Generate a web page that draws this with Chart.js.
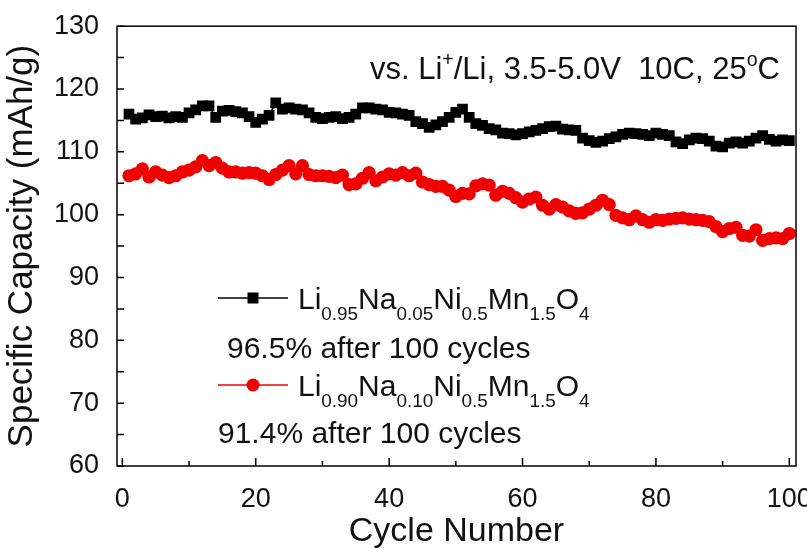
<!DOCTYPE html>
<html>
<head>
<meta charset="utf-8">
<script src="https://cdn.jsdelivr.net/npm/chart.js@4"></script>
<style>
  html, body { margin: 0; padding: 0; background: #fff; }
</style>
</head>
<body>
<canvas id="chart" width="807" height="549"></canvas>
<script>
/* Capacity retention at 10C — two Na-doped LNMO cathodes */

const CYCLES = Array.from({ length: 100 }, (_, i) => i + 1);

// Li0.95Na0.05Ni0.5Mn1.5O4 (black squares)
const CAP_NA005 = [
  116.0, 115.2, 115.4, 115.9, 115.6, 115.7, 115.4, 115.6, 115.5, 116.2,
  116.7, 117.3, 117.3, 115.5, 116.5, 116.6, 116.4, 116.2, 115.6, 114.7,
  115.2, 115.8, 117.8, 116.8, 117.0, 116.8, 116.7, 116.2, 115.5, 115.3,
  115.5, 115.6, 115.3, 115.5, 116.0, 117.0, 117.0, 116.8, 116.7, 116.3,
  116.2, 116.0, 115.8, 114.8, 114.5, 113.9, 114.3, 114.8, 115.5, 116.3,
  116.8, 115.5, 114.5, 114.2, 113.7, 113.5, 113.0, 112.9, 112.7, 112.9,
  113.2, 113.4, 113.7, 114.0, 114.1, 113.6, 113.5, 113.4, 112.2, 111.8,
  111.5, 111.7, 112.1, 112.4, 112.8, 113.0, 112.9, 112.8, 112.6, 113.0,
  112.8, 112.6, 111.6, 111.3, 111.9, 112.2, 112.1, 111.7, 110.9, 110.8,
  111.4, 111.6, 111.4, 111.7, 112.2, 112.6, 112.0, 111.7, 111.9, 111.8,
];

// Li0.90Na0.10Ni0.5Mn1.5O4 (red circles)
const CAP_NA010 = [
  106.2, 106.5, 107.3, 106.0, 106.8, 106.3, 105.9, 106.2, 106.8, 107.1,
  107.6, 108.6, 107.8, 108.3, 107.4, 106.8, 106.8, 106.6, 106.7, 106.6,
  106.2, 105.6, 106.4, 107.1, 107.8, 106.5, 107.8, 106.4, 106.2, 106.2,
  106.1, 105.9, 106.3, 104.8, 104.9, 105.8, 106.7, 105.4, 106.0, 106.5,
  106.3, 106.7, 106.2, 106.6, 105.2, 104.8, 104.5, 104.5, 103.9, 102.9,
  103.4, 103.3, 104.6, 104.9, 104.7, 103.1, 103.7, 103.4, 102.7, 102.0,
  102.5, 102.8, 101.5, 100.9, 101.6, 101.2, 100.6, 100.2, 100.3, 100.9,
  101.5, 102.3, 101.6,  99.9,  99.5,  99.2,  99.8,  99.2,  98.8,  99.2,
   99.1,  99.3,  99.4,  99.5,  99.3,  99.2,  99.1,  98.9,  98.1,  97.3,
   97.8,  98.0,  96.7,  96.6,  97.6,  95.9,  96.2,  96.3,  96.2,  97.0,
];

const X_TICKS = [0, 20, 40, 60, 80, 100];
const X_MINOR = [10, 30, 50, 70, 90];
const Y_TICKS = [60, 70, 80, 90, 100, 110, 120, 130];
const Y_MINOR = [65, 75, 85, 95, 105, 115, 125];

// text runs: [text, '' | 'sub' | 'sup']
const CONDITIONS = [['vs. Li', ''], ['+', 'sup'], ['/Li, 3.5-5.0V  10C, 25', ''], ['o', 'sup'], ['C', '']];
const NAME_NA005 = [['Li', ''], ['0.95', 'sub'], ['Na', ''], ['0.05', 'sub'], ['Ni', ''], ['0.5', 'sub'], ['Mn', ''], ['1.5', 'sub'], ['O', ''], ['4', 'sub']];
const NAME_NA010 = [['Li', ''], ['0.90', 'sub'], ['Na', ''], ['0.10', 'sub'], ['Ni', ''], ['0.5', 'sub'], ['Mn', ''], ['1.5', 'sub'], ['O', ''], ['4', 'sub']];
const RETENTION = ['96.5% after 100 cycles', '91.4% after 100 cycles'];

const BLACK = '#000000';
const RED = '#f00000';
const FONT = '"Liberation Sans", Arial, sans-serif';

function drawRuns(ctx, runs, x, y, size) {
  runs.forEach(([t, kind]) => {
    const s = kind ? size * 0.63 : size;
    const dy = kind === 'sub' ? size * 0.38 : kind === 'sup' ? -size * 0.42 : 0;
    ctx.font = `${s}px ${FONT}`;
    ctx.fillText(t, x, y + dy);
    x += ctx.measureText(t).width;
  });
}

function legendSample(ctx, x0, x1, y, color, style) {
  ctx.strokeStyle = color;
  ctx.fillStyle = color;
  ctx.lineWidth = 1.5;
  ctx.beginPath();
  ctx.moveTo(x0, y);
  ctx.lineTo(x1, y);
  ctx.stroke();
  const cx = (x0 + x1) / 2;
  ctx.beginPath();
  if (style === 'rect') ctx.rect(cx - 5.5, y - 5.5, 11, 11);
  else ctx.arc(cx, y, 6.5, 0, Math.PI * 2);
  ctx.fill();
}

const frameAndNotes = {
  id: 'frameAndNotes',
  afterDatasetsDraw(chart) {
    const { ctx, chartArea: a, scales: { x, y } } = chart;
    ctx.save();

    // ── frame + inward ticks ──
    ctx.strokeStyle = BLACK;
    ctx.lineWidth = 1.5;
    ctx.strokeRect(a.left, a.top, a.right - a.left, a.bottom - a.top);
    ctx.beginPath();
    Y_TICKS.concat(Y_MINOR).forEach(v => {
      const py = y.getPixelForValue(v);
      ctx.moveTo(a.left, py);
      ctx.lineTo(a.left + 7, py);
    });
    X_TICKS.forEach(v => {
      const px = x.getPixelForValue(v);
      ctx.moveTo(px, a.bottom);
      ctx.lineTo(px, a.bottom - 8);
    });
    X_MINOR.forEach(v => {
      const px = x.getPixelForValue(v);
      ctx.moveTo(px, a.bottom);
      ctx.lineTo(px, a.bottom - 5);
    });
    ctx.stroke();

    // ── test conditions ──
    ctx.fillStyle = '#111';
    ctx.textBaseline = 'alphabetic';
    drawRuns(ctx, CONDITIONS, 370, 79, 31);

    // ── legend ──
    legendSample(ctx, 218, 288, 298, BLACK, 'rect');
    ctx.fillStyle = '#111';
    drawRuns(ctx, NAME_NA005, 298, 309, 30);
    ctx.font = `30px ${FONT}`;
    ctx.fillText(RETENTION[0], 227, 358);

    legendSample(ctx, 218, 288, 385, RED, 'circle');
    ctx.fillStyle = '#111';
    drawRuns(ctx, NAME_NA010, 298, 396, 30);
    ctx.font = `30px ${FONT}`;
    ctx.fillText(RETENTION[1], 218, 443);

    ctx.restore();
  },
};

const tickFont = { family: FONT, size: 27 };

new Chart(document.getElementById('chart'), {
  type: 'line',
  data: {
    datasets: [
      {
        label: 'Li0.95Na0.05Ni0.5Mn1.5O4',
        data: CYCLES.map((c, i) => ({ x: c, y: CAP_NA005[i] })),
        borderColor: BLACK,
        backgroundColor: BLACK,
        borderWidth: 1.5,
        pointStyle: 'rect',
        pointRadius: 7.6,
        pointBorderWidth: 0,
      },
      {
        label: 'Li0.90Na0.10Ni0.5Mn1.5O4',
        data: CYCLES.map((c, i) => ({ x: c, y: CAP_NA010[i] })),
        borderColor: RED,
        backgroundColor: RED,
        borderWidth: 1.5,
        pointStyle: 'circle',
        pointRadius: 6.6,
        pointBorderWidth: 0,
      },
    ],
  },
  options: {
    responsive: false,
    animation: false,
    layout: { padding: { top: 23, right: 11, left: 0, bottom: 0 } },
    plugins: {
      legend: { display: false },
      tooltip: { enabled: false },
    },
    scales: {
      x: {
        type: 'linear',
        min: -0.8, max: 101,
        grid: { display: false },
        border: { display: false },
        afterBuildTicks: s => { s.ticks = X_TICKS.map(v => ({ value: v })); },
        afterFit: s => { s.height = 83; s.paddingLeft = 0; s.paddingRight = 0; },
        ticks: { font: tickFont, color: '#111', padding: 9, maxRotation: 0, autoSkip: false },
        title: {
          display: true, text: 'Cycle Number', color: '#111',
          font: { family: FONT, size: 34, lineHeight: 1.0 }, padding: { top: 16, bottom: 0 },
        },
      },
      y: {
        min: 60, max: 130,
        grid: { display: false },
        border: { display: false },
        afterBuildTicks: s => { s.ticks = Y_TICKS.map(v => ({ value: v })); },
        afterFit: s => { s.width = 117; },
        ticks: { font: tickFont, color: '#111', padding: 10, autoSkip: false },
        title: {
          display: true, text: 'Specific Capacity (mAh/g)', color: '#111',
          font: { family: FONT, size: 35 }, padding: { top: 1, bottom: 0 },
        },
      },
    },
  },
  plugins: [frameAndNotes],
});
</script>
</body>
</html>
